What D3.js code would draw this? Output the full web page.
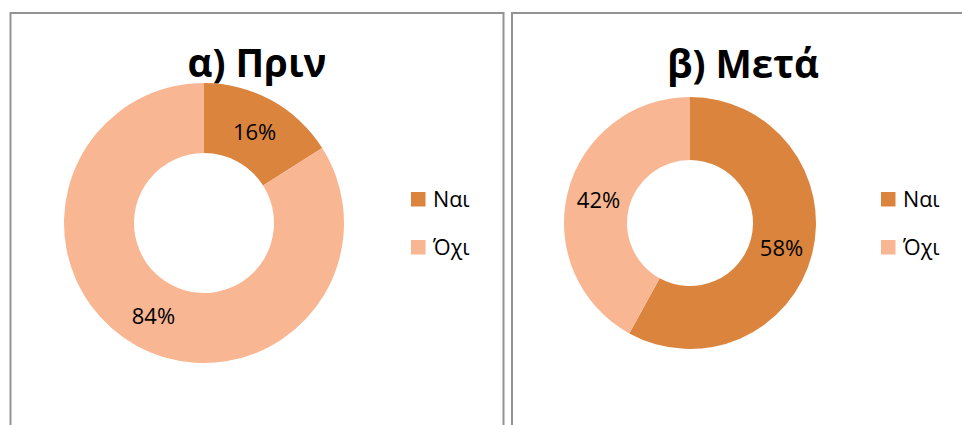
<!DOCTYPE html>
<html>
<head>
<meta charset="utf-8">
<script src="https://cdn.jsdelivr.net/npm/d3@7"></script>
<style>
  html, body { margin: 0; padding: 0; background: #fff; overflow: hidden; }
  text { font-family: 'Open Sans', 'Noto Sans', sans-serif; fill: #000; }
</style>
</head>
<body>
<script>
'use strict'

const categories = ['Ναι', 'Όχι']
const titles = ['α) Πριν', 'β) Μετά']
const beforeValues = [16, 84]
const afterValues = [58, 42]

const ORANGE = '#DB843E'
const PEACH  = '#F9B692'
const BORDER = '#939393'

const W = 962, H = 425

const svg = d3.select('body')
  .append('svg')
  .attr('width', W)
  .attr('height', H)

const color = d3.scaleOrdinal().domain(categories).range([ORANGE, PEACH])

// one entry per chart frame
const panels = [
  { title: titles[0], values: beforeValues, x: 10.5, w: 493, titleX: 257, titleY: 77,
    cx: 204, cy: 223, r: 140, legendX: 411 },
  { title: titles[1], values: afterValues, x: 512, w: 470, titleX: 743, titleY: 78,
    cx: 690, cy: 223, r: 126, legendX: 881 }
]

const pie = d3.pie().sort(null).value(d => d.value)

panels.forEach(p => {
  const g = svg.append('g')

  g.append('rect')
    .attr('x', p.x)
    .attr('y', 13)
    .attr('width', p.w)
    .attr('height', 500)
    .attr('fill', '#fff')
    .attr('stroke', BORDER)
    .attr('stroke-width', 2)

  g.append('text')
    .attr('x', p.titleX)
    .attr('y', p.titleY)
    .attr('text-anchor', 'middle')
    .style('font-size', '38.5px')
    .style('font-weight', 700)
    .text(p.title)

  const data = categories.map((c, i) => ({ name: c, value: p.values[i] }))
  const arcs = pie(data)
  const arc = d3.arc().innerRadius(p.r / 2).outerRadius(p.r)
  const labelArc = d3.arc().innerRadius(p.r * 0.75).outerRadius(p.r * 0.75)

  const donut = g.append('g')
    .attr('transform', `translate(${ p.cx }, ${ p.cy })`)

  donut.selectAll('path')
    .data(arcs)
    .join('path')
    .attr('d', arc)
    .attr('fill', d => color(d.data.name))

  donut.selectAll('text')
    .data(arcs)
    .join('text')
    .attr('transform', d => `translate(${ labelArc.centroid(d) })`)
    .attr('text-anchor', 'middle')
    .attr('dominant-baseline', 'central')
    .style('font-size', '22px')
    .text(d => d.data.value + '%')

  const legend = g.selectAll('.legend')
    .data(categories)
    .join('g')
    .attr('class', 'legend')
    .attr('transform', (d, i) => `translate(${ p.legendX }, ${ 192 + i * 48 })`)

  legend.append('rect')
    .attr('width', 14.5)
    .attr('height', 14.5)
    .attr('fill', d => color(d))

  legend.append('text')
    .attr('x', 22)
    .attr('y', 14.5)
    .style('font-size', '21.5px')
    .text(d => d)
})
</script>
</body>
</html>
